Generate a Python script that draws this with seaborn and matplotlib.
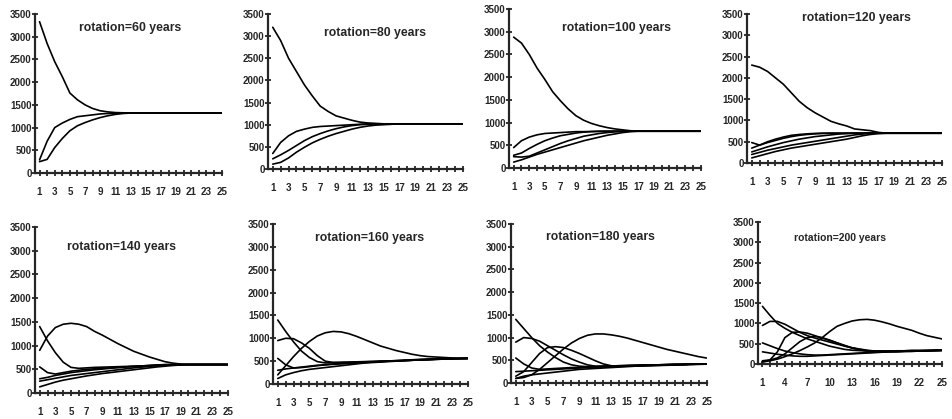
import pandas as pd
import seaborn as sns
import matplotlib.pyplot as plt

# ======================================
# DADOS
# ======================================

steps = list(range(1, 26))
yticks = [0, 500, 1000, 1500, 2000, 2500, 3000, 3500]
xlabels_odd = ['1', '', '3', '', '5', '', '7', '', '9', '', '11', '', '13', '', '15', '', '17', '', '19', '', '21', '', '23', '', '25']
xlabels_three = ['1', '', '', '4', '', '', '7', '', '', '10', '', '', '13', '', '', '16', '', '', '19', '', '', '22', '', '', '25']

titles = ['rotation=60 years', 'rotation=80 years', 'rotation=100 years', 'rotation=120 years',
          'rotation=140 years', 'rotation=160 years', 'rotation=180 years', 'rotation=200 years']

# rotation = 60
r60_a = [3330, 2850, 2450, 2120, 1760, 1610, 1500, 1420, 1370, 1345, 1330, 1325, 1320, 1320, 1320, 1320, 1320, 1320, 1320, 1320, 1320, 1320, 1320, 1320, 1320]
r60_b = [290, 700, 1000, 1100, 1180, 1240, 1260, 1280, 1300, 1310, 1315, 1320, 1320, 1320, 1320, 1320, 1320, 1320, 1320, 1320, 1320, 1320, 1320, 1320, 1320]
r60_c = [250, 300, 560, 760, 930, 1040, 1110, 1170, 1220, 1260, 1290, 1310, 1320, 1320, 1320, 1320, 1320, 1320, 1320, 1320, 1320, 1320, 1320, 1320, 1320]

# rotation = 80
r80_a = [3200, 2900, 2500, 2200, 1900, 1650, 1420, 1300, 1200, 1150, 1100, 1060, 1040, 1030, 1020, 1020, 1020, 1020, 1020, 1020, 1020, 1020, 1020, 1020, 1020]
r80_b = [350, 600, 750, 850, 900, 940, 960, 970, 980, 990, 1000, 1010, 1020, 1020, 1020, 1020, 1020, 1020, 1020, 1020, 1020, 1020, 1020, 1020, 1020]
r80_c = [230, 320, 420, 530, 640, 730, 800, 860, 910, 950, 980, 1000, 1010, 1020, 1020, 1020, 1020, 1020, 1020, 1020, 1020, 1020, 1020, 1020, 1020]
r80_d = [110, 150, 250, 380, 490, 590, 670, 740, 800, 850, 900, 940, 970, 990, 1000, 1010, 1020, 1020, 1020, 1020, 1020, 1020, 1020, 1020, 1020]

# rotation = 100
r100_a = [2880, 2750, 2500, 2200, 1950, 1680, 1480, 1300, 1150, 1050, 980, 930, 890, 860, 840, 820, 810, 810, 810, 810, 810, 810, 810, 810, 810]
r100_b = [450, 600, 680, 730, 760, 770, 780, 790, 800, 800, 805, 810, 810, 810, 810, 810, 810, 810, 810, 810, 810, 810, 810, 810, 810]
r100_c = [280, 330, 430, 520, 600, 660, 710, 740, 770, 790, 800, 805, 810, 810, 810, 810, 810, 810, 810, 810, 810, 810, 810, 810, 810]
r100_d = [250, 240, 260, 330, 400, 470, 540, 600, 650, 700, 730, 760, 780, 795, 805, 810, 810, 810, 810, 810, 810, 810, 810, 810, 810]
r100_e = [130, 180, 240, 300, 350, 400, 450, 500, 550, 600, 640, 680, 720, 750, 780, 800, 810, 810, 810, 810, 810, 810, 810, 810, 810]

# rotation = 120
r120_a = [2300, 2250, 2150, 2000, 1850, 1650, 1450, 1300, 1180, 1080, 980, 920, 870, 800, 780, 760, 720, 700, 700, 700, 700, 700, 700, 700, 700]
r120_b = [480, 420, 500, 560, 610, 650, 670, 685, 695, 700, 700, 700, 700, 700, 700, 700, 700, 700, 700, 700, 700, 700, 700, 700, 700]
r120_c = [350, 420, 480, 530, 580, 620, 650, 670, 685, 695, 700, 700, 700, 700, 700, 700, 700, 700, 700, 700, 700, 700, 700, 700, 700]
r120_d = [260, 320, 380, 430, 480, 520, 560, 590, 620, 640, 660, 680, 690, 700, 700, 700, 700, 700, 700, 700, 700, 700, 700, 700, 700]
r120_e = [200, 250, 300, 340, 380, 420, 450, 480, 510, 540, 570, 600, 630, 660, 680, 700, 700, 700, 700, 700, 700, 700, 700, 700, 700]
r120_f = [120, 170, 220, 270, 310, 350, 380, 410, 440, 470, 500, 530, 560, 600, 640, 670, 690, 700, 700, 700, 700, 700, 700, 700, 700]

# rotation = 140
r140_a = [900, 1200, 1380, 1450, 1470, 1450, 1400, 1300, 1220, 1130, 1040, 960, 880, 820, 760, 710, 660, 630, 610, 600, 600, 600, 600, 600, 600]
r140_b = [1400, 1100, 850, 650, 540, 520, 530, 540, 545, 550, 555, 560, 565, 570, 575, 580, 585, 590, 595, 600, 600, 600, 600, 600, 600]
r140_c = [550, 430, 400, 430, 460, 480, 500, 510, 520, 530, 540, 550, 560, 570, 580, 590, 600, 600, 600, 600, 600, 600, 600, 600, 600]
r140_d = [300, 330, 370, 400, 430, 450, 470, 490, 505, 520, 535, 550, 560, 570, 580, 590, 595, 600, 600, 600, 600, 600, 600, 600, 600]
r140_e = [250, 280, 310, 340, 370, 390, 410, 430, 450, 470, 490, 510, 530, 545, 560, 575, 585, 595, 600, 600, 600, 600, 600, 600, 600]
r140_f = [130, 180, 230, 270, 300, 330, 360, 385, 410, 430, 450, 470, 490, 510, 530, 550, 565, 580, 590, 600, 600, 600, 600, 600, 600]

# rotation = 160
r160_a = [200, 400, 600, 780, 930, 1050, 1120, 1150, 1140, 1100, 1040, 970, 900, 830, 780, 730, 690, 650, 620, 600, 590, 580, 570, 560, 560]
r160_b = [1400, 1150, 920, 720, 580, 490, 460, 470, 475, 480, 485, 490, 495, 500, 505, 510, 515, 520, 525, 530, 540, 545, 550, 555, 560]
r160_c = [950, 1000, 990, 900, 780, 620, 500, 470, 470, 475, 480, 485, 490, 500, 505, 510, 515, 520, 530, 535, 540, 545, 550, 555, 560]
r160_d = [560, 420, 350, 360, 380, 400, 420, 440, 450, 460, 465, 470, 480, 490, 500, 505, 510, 520, 525, 530, 540, 545, 550, 555, 560]
r160_e = [300, 330, 350, 370, 390, 410, 420, 430, 440, 450, 460, 470, 480, 490, 500, 510, 520, 530, 540, 545, 550, 555, 560, 560, 560]
r160_f = [120, 200, 250, 290, 320, 340, 360, 380, 400, 420, 440, 460, 470, 480, 490, 500, 510, 520, 530, 540, 545, 550, 555, 560, 560]

# rotation = 180
r180_a = [100, 120, 180, 300, 450, 600, 750, 880, 980, 1050, 1080, 1080, 1060, 1030, 990, 940, 890, 840, 790, 740, 700, 660, 620, 580, 550]
r180_b = [1400, 1200, 1000, 820, 680, 560, 460, 400, 370, 360, 365, 370, 375, 380, 385, 390, 395, 400, 400, 405, 410, 410, 415, 420, 420]
r180_c = [900, 1000, 980, 920, 820, 720, 620, 530, 460, 400, 370, 370, 375, 380, 385, 390, 395, 400, 400, 405, 410, 410, 415, 420, 420]
r180_d = [150, 250, 450, 650, 780, 800, 780, 720, 650, 570, 490, 420, 380, 370, 380, 385, 390, 395, 400, 405, 410, 410, 415, 420, 420]
r180_e = [550, 420, 330, 300, 310, 320, 330, 340, 345, 350, 355, 360, 365, 370, 375, 380, 385, 390, 395, 400, 405, 410, 415, 420, 420]
r180_f = [250, 260, 270, 280, 290, 300, 310, 320, 330, 340, 350, 355, 360, 365, 370, 375, 380, 385, 390, 395, 400, 405, 410, 415, 420]
r180_g = [100, 150, 180, 200, 220, 240, 260, 280, 300, 310, 320, 330, 340, 350, 360, 370, 375, 380, 385, 390, 395, 400, 405, 410, 415]

# rotation = 200
r200_a = [50, 80, 120, 180, 250, 330, 420, 520, 650, 800, 930, 1000, 1060, 1090, 1100, 1080, 1040, 990, 930, 880, 830, 760, 700, 660, 620]
r200_b = [1420, 1200, 1000, 880, 780, 700, 620, 560, 500, 440, 400, 360, 340, 330, 320, 320, 320, 320, 325, 325, 330, 330, 330, 335, 340]
r200_c = [950, 1050, 1050, 980, 880, 780, 700, 640, 590, 540, 490, 440, 400, 370, 340, 320, 320, 320, 325, 325, 330, 330, 330, 335, 340]
r200_d = [50, 100, 300, 650, 780, 790, 760, 700, 640, 580, 520, 460, 400, 360, 330, 310, 310, 315, 320, 325, 330, 330, 335, 335, 340]
r200_e = [80, 100, 150, 250, 400, 550, 650, 680, 650, 590, 520, 450, 390, 350, 320, 300, 300, 305, 310, 315, 320, 325, 330, 335, 340]
r200_f = [520, 450, 380, 320, 280, 250, 230, 220, 220, 230, 240, 250, 260, 270, 280, 290, 295, 300, 305, 310, 315, 320, 325, 330, 335]
r200_g = [300, 270, 240, 220, 200, 190, 190, 200, 210, 220, 230, 240, 250, 260, 270, 280, 290, 300, 300, 310, 310, 320, 320, 330, 330]

paineis = [
    [r60_a, r60_b, r60_c],
    [r80_a, r80_b, r80_c, r80_d],
    [r100_a, r100_b, r100_c, r100_d, r100_e],
    [r120_a, r120_b, r120_c, r120_d, r120_e, r120_f],
    [r140_a, r140_b, r140_c, r140_d, r140_e, r140_f],
    [r160_a, r160_b, r160_c, r160_d, r160_e, r160_f],
    [r180_a, r180_b, r180_c, r180_d, r180_e, r180_f, r180_g],
    [r200_a, r200_b, r200_c, r200_d, r200_e, r200_f, r200_g],
]

# ======================================
# LAYOUT (pixels: esquerda, base, direita, topo, centro do título x, y)
# ======================================

W, H = 952, 419
caixas = [
    (35, 173, 222, 14, 130, 28),
    (268, 169, 463, 14, 375, 33),
    (509, 168, 701, 9, 617, 28),
    (747, 163, 942, 14, 856, 18),
    (35, 393, 228, 227, 122, 247),
    (273, 384, 468, 224, 370, 238),
    (511, 383, 707, 224, 600, 237),
    (758, 364, 942, 222, 840, 238),
]

sns.set_style('ticks')
plt.rcParams['font.family'] = ['Liberation Sans', 'DejaVu Sans']
plt.rcParams['font.weight'] = 'bold'

fig = plt.figure(figsize=(W / 100, H / 100), dpi=100)

for i, (curvas, caixa) in enumerate(zip(paineis, caixas)):
    l, b, r, t, tx, ty = caixa
    ax = fig.add_axes([l / W, 1 - b / H, (r - l) / W, (b - t) / H])

    linhas = []
    for j, curva in enumerate(curvas):
        for s, v in zip(steps, curva):
            linhas.append({'step': s, 'value': v, 'curva': j})
    df = pd.DataFrame(linhas)

    sns.lineplot(data=df, x='step', y='value', units='curva', estimator=None,
                 color='black', linewidth=1.2, ax=ax, legend=False)

    ax.set_xlim(0.4, 25.05)
    ax.set_ylim(0, 3500)
    ax.set_xticks(steps)
    ax.set_xticklabels(xlabels_three if i == 7 else xlabels_odd)
    ax.set_yticks(yticks)
    ax.set_yticklabels([str(v) for v in yticks])
    ax.set_xlabel('')
    ax.set_ylabel('')
    for lado in ['top', 'right']:
        ax.spines[lado].set_visible(False)
    for lado in ['left', 'bottom']:
        ax.spines[lado].set_linewidth(1.6)
    ax.tick_params(axis='both', direction='inout', length=5, width=1.3, labelsize=7)
    ax.tick_params(axis='y', pad=0)
    ax.tick_params(axis='x', pad=7.5)

    fig.text(tx / W, 1 - ty / H, titles[i], ha='center', va='center',
             fontsize=7.5 if i == 7 else 8.8, fontweight='bold')

fig.savefig('out.png', dpi=100)
